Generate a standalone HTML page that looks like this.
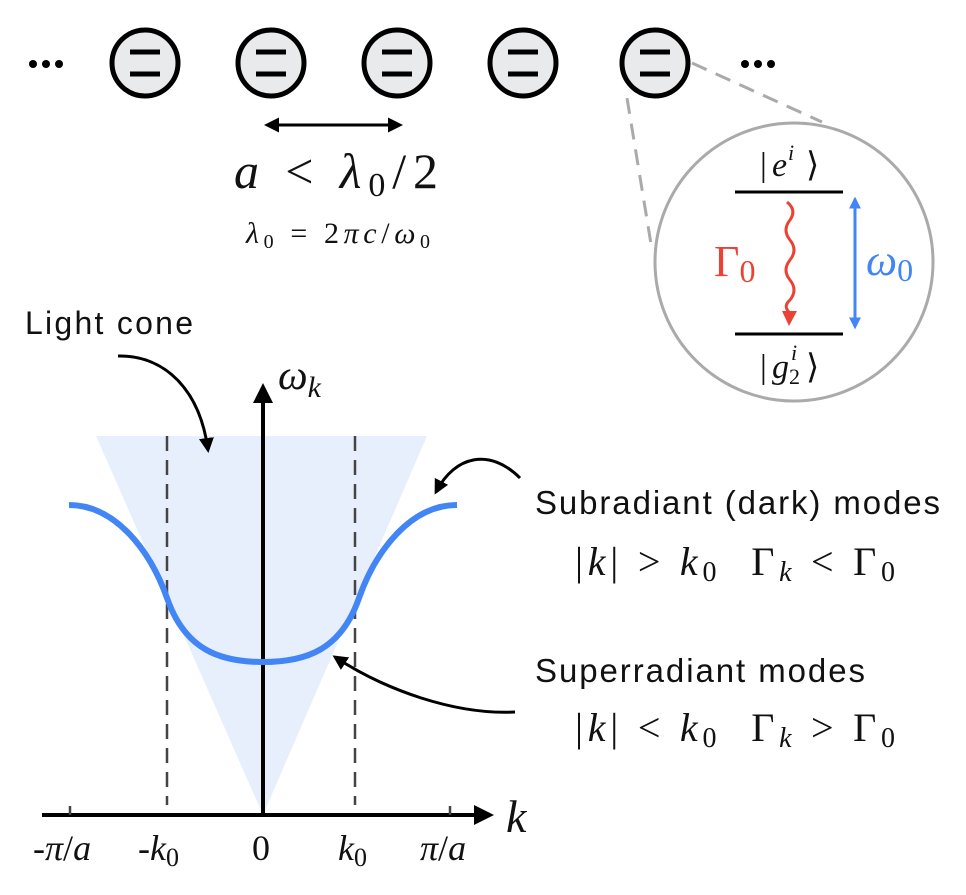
<!DOCTYPE html>
<html><head><meta charset="utf-8"><style>
html,body{margin:0;padding:0;background:#fff}
svg{display:block}
.s{font-family:"Liberation Sans",sans-serif;fill:#111}
.m{font-family:"Liberation Serif",serif;fill:#111}
</style></head><body>
<svg width="966" height="895" viewBox="0 0 966 895" xmlns="http://www.w3.org/2000/svg">
<defs>
<marker id="ah" viewBox="0 0 10 10" refX="8" refY="5" markerWidth="5" markerHeight="5" orient="auto-start-reverse"><path d="M0,0L10,5L0,10z" fill="#000"/></marker>
<marker id="ahb" viewBox="0 0 10 10" refX="8" refY="5" markerWidth="4" markerHeight="4" orient="auto-start-reverse"><path d="M0,0L10,5L0,10z" fill="#4285f4"/></marker>
</defs>
<g fill="#000"><circle cx="33" cy="64" r="4"/><circle cx="46" cy="64" r="4"/><circle cx="59" cy="64" r="4"/>
<circle cx="745" cy="64" r="4"/><circle cx="758" cy="64" r="4"/><circle cx="771" cy="64" r="4"/></g>
<g stroke="#000" stroke-width="5" fill="#e9eaec">
<circle cx="145" cy="63" r="33"/><circle cx="271" cy="63" r="33"/><circle cx="397" cy="63" r="33"/><circle cx="523" cy="63" r="33"/><circle cx="655" cy="63" r="33"/></g>
<g stroke="#000" stroke-width="5">
<path d="M130 52H160M130 74H160M256 52H286M256 74H286M382 52H412M382 74H412M508 52H538M508 74H538M640 52H670M640 74H670"/></g>
<line x1="267" y1="125" x2="400" y2="125" stroke="#000" stroke-width="3" marker-start="url(#ah)" marker-end="url(#ah)"/>
<text x="234" y="188" class="m" font-size="50" textLength="204"><tspan font-style="italic">a</tspan> &lt; <tspan font-style="italic">λ</tspan><tspan font-size="34" dy="8">0</tspan><tspan dy="-8">/2</tspan></text>
<text x="246" y="243" class="m" font-size="30" textLength="184"><tspan font-style="italic">λ</tspan><tspan font-size="20" dy="5">0</tspan><tspan dy="-5"> = 2</tspan><tspan font-style="italic">πc</tspan>/<tspan font-style="italic">ω</tspan><tspan font-size="20" dy="5">0</tspan></text>
<g stroke="#aaa" stroke-width="3" stroke-dasharray="16 10" fill="none">
<line x1="627" y1="98" x2="652" y2="250"/><line x1="692" y1="63" x2="822" y2="122"/></g>
<circle cx="794" cy="262" r="139" fill="#fff" stroke="#aaa" stroke-width="3"/>
<line x1="735" y1="192" x2="843" y2="192" stroke="#000" stroke-width="3"/>
<line x1="735" y1="334" x2="843" y2="334" stroke="#000" stroke-width="3"/>
<text x="760" y="176" class="m" font-size="34">|</text>
<text x="772" y="176" class="m" font-size="34" font-style="italic">e</text>
<text x="788" y="160" class="m" font-size="22" font-style="italic">i</text>
<text x="806" y="176" class="m" font-size="34">⟩</text>
<text x="760" y="378" class="m" font-size="34">|</text>
<text x="772" y="378" class="m" font-size="34" font-style="italic">g</text>
<text x="791" y="360" class="m" font-size="22" font-style="italic">i</text>
<text x="789" y="384" class="m" font-size="22">2</text>
<text x="806" y="378" class="m" font-size="34">⟩</text>
<path d="M787 202 Q797 210 790 220 Q782 230 790 240 Q798 250 790 260 Q782 270 790 280 Q798 290 790 300 Q783 306 789 312" stroke="#ea4335" stroke-width="3" fill="none"/>
<polygon points="782,311 797,311 789,326" fill="#ea4335"/>
<text x="714" y="276" font-family="Liberation Serif,serif" font-size="44" fill="#ea4335">Γ<tspan font-size="32" dy="6">0</tspan></text>
<line x1="855" y1="199" x2="855" y2="327" stroke="#4285f4" stroke-width="3" marker-start="url(#ahb)" marker-end="url(#ahb)"/>
<text x="866" y="275" font-family="Liberation Serif,serif" font-size="44" fill="#4285f4"><tspan font-style="italic">ω</tspan><tspan font-size="32" dy="6">0</tspan></text>
<polygon points="96,436 427,436 263,815" fill="#e8effc"/>
<g stroke="#444" stroke-width="2.5" stroke-dasharray="15 9">
<line x1="167" y1="436" x2="167" y2="805"/><line x1="355" y1="436" x2="355" y2="805"/></g>
<line x1="263" y1="815" x2="263" y2="387" stroke="#000" stroke-width="4" marker-end="url(#ah)"/>
<line x1="42" y1="815" x2="490" y2="815" stroke="#000" stroke-width="4" marker-end="url(#ah)"/>
<g stroke="#444" stroke-width="2.5"><path d="M70 806V815M450 806V815"/></g>
<path d="M69 505 C115 505 150 550 167 598 C185 650 220 662 263 662 C306 662 341 650 359 598 C376 550 411 505 457 505" stroke="#4285f4" stroke-width="6" fill="none"/>
<text x="278" y="389" class="m" font-size="42" font-style="italic">ω<tspan font-size="30" dy="8">k</tspan></text>
<text x="506" y="832" class="m" font-size="46" font-style="italic">k</text>
<g class="m" font-size="36">
<text x="33" y="860">-<tspan font-style="italic">π</tspan>/<tspan font-style="italic">a</tspan></text>
<text x="138" y="860">-<tspan font-style="italic">k</tspan><tspan font-size="26" dy="6">0</tspan></text>
<text x="252" y="860">0</text>
<text x="338" y="860" font-style="italic">k<tspan font-style="normal" font-size="26" dy="6">0</tspan></text>
<text x="420" y="860"><tspan font-style="italic">π</tspan>/<tspan font-style="italic">a</tspan></text>
</g>
<text x="25" y="334" class="s" font-size="32" textLength="168">Light cone</text>
<path d="M118 356 C165 355 200 390 208 450" stroke="#000" stroke-width="3" fill="none" marker-end="url(#ah)"/>
<path d="M520 478 C490 448 455 455 436 492" stroke="#000" stroke-width="3" fill="none" marker-end="url(#ah)"/>
<path d="M515 712 C455 715 385 690 335 657" stroke="#000" stroke-width="3" fill="none" marker-end="url(#ah)"/>
<text x="535" y="514" class="s" font-size="33" textLength="405">Subradiant (dark) modes</text>
<text x="535" y="682" class="s" font-size="33" textLength="330">Superradiant modes</text>
<g class="m" font-size="40">
<text x="575" y="575" textLength="320">|<tspan font-style="italic">k</tspan>| &gt; <tspan font-style="italic">k</tspan><tspan font-size="28" dy="6">0</tspan><tspan dy="-6" dx="30">Γ</tspan><tspan font-style="italic" font-size="28" dy="6">k</tspan><tspan dy="-6"> &lt; Γ</tspan><tspan font-size="28" dy="6">0</tspan></text>
<text x="575" y="741" textLength="320">|<tspan font-style="italic">k</tspan>| &lt; <tspan font-style="italic">k</tspan><tspan font-size="28" dy="6">0</tspan><tspan dy="-6" dx="30">Γ</tspan><tspan font-style="italic" font-size="28" dy="6">k</tspan><tspan dy="-6"> &gt; Γ</tspan><tspan font-size="28" dy="6">0</tspan></text>
</g>
</svg>
</body></html>
